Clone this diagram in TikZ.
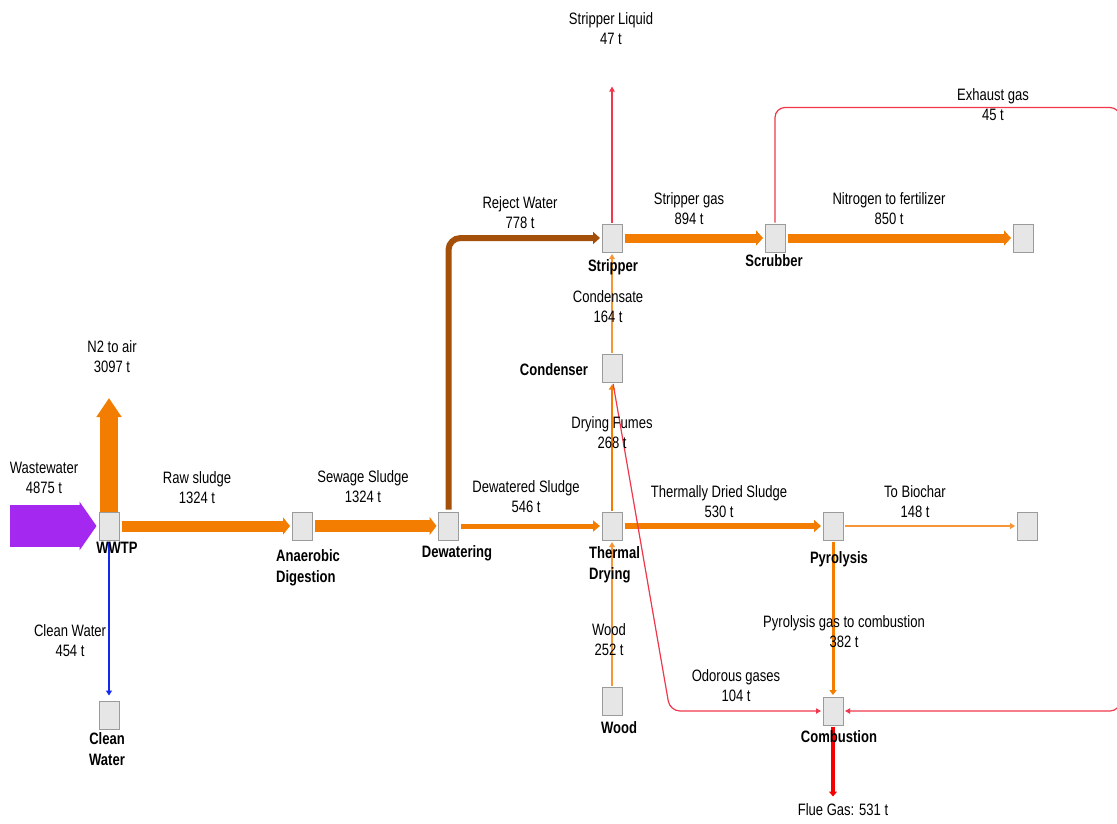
\documentclass[tikz,border=0pt]{standalone}
\usepackage{fontspec}
\setmainfont{Liberation Sans}[FakeStretch=0.79]
\usetikzlibrary{arrows.meta}
\definecolor{sorange}{RGB}{242,125,0}
\definecolor{lorange}{RGB}{246,150,55}
\definecolor{spurple}{RGB}{165,40,240}
\definecolor{sbrown}{RGB}{165,80,10}
\definecolor{sblue}{RGB}{20,40,240}
\definecolor{sred}{RGB}{240,55,75}
\definecolor{fred}{RGB}{245,0,0}
\definecolor{boxfill}{RGB}{230,230,230}
\definecolor{boxline}{RGB}{155,155,155}
\begin{document}
\begin{tikzpicture}[x=1pt,y=-1pt,
 proc/.style={draw=boxline, fill=boxfill, line width=1pt, minimum width=20pt, minimum height=28pt, inner sep=0pt},
 lbl/.style={font=\fontsize{16.5}{20}\selectfont, align=center, inner sep=0pt},
 blbl/.style={font=\fontsize{16.5}{21}\selectfont\bfseries, align=center, inner sep=0pt},
 sflow/.style={line width=#1, -{Triangle[length=7pt 0, width=6pt 1]}, shorten >=1.5pt, shorten <=2pt},
 tflow/.style={line width=#1, -{Triangle[length=5pt 0, width=4pt 1]}, shorten >=1.5pt, shorten <=1pt},
]
\clip (0,0) rectangle (1117,823);
\fill[white] (0,0) rectangle (1117,823);

% process boxes
\node[proc] (wwtp) at (109,526) {};
\node[proc] (ad) at (302,526) {};
\node[proc] (dew) at (448.5,526) {};
\node[proc] (td) at (612,526) {};
\node[proc] (pyr) at (833,526) {};
\node[proc] (bio) at (1027,526) {};
\node[proc] (cw) at (109,715) {};
\node[proc] (wood) at (612,701) {};
\node[proc] (comb) at (833,711) {};
\node[proc] (cond) at (612,368.5) {};
\node[proc] (strip) at (612,238) {};
\node[proc] (scrub) at (775,238) {};
\node[proc] (fert) at (1023,238) {};

% free ends
\coordinate (wwin) at (10,526);
\coordinate (n2out) at (109,398);
\coordinate (slout) at (612,85);
\coordinate (flout) at (833,798);
\coordinate (odbend) at (670,711);
\coordinate (ex1) at (775,107.5);
\coordinate (ex2) at (1120,107.5);
\coordinate (ex3) at (1120,711);

% flows
\draw[spurple, line width=42pt, -{Triangle[length=17pt 0, width=48pt 0]}, shorten >=2pt] (wwin) -- (wwtp.west);
\draw[sorange, line width=18pt, -{Triangle[length=19pt 0, width=24pt 0]}] (wwtp.north) -- (n2out);
\draw[sorange, sflow=11pt] (wwtp.east) -- (ad.west);
\draw[sorange, sflow=12pt] (ad.east) -- (dew.west);
\draw[sorange, sflow=5pt] (dew.east) -- (td.west);
\draw[sorange, sflow=6pt] (td.east) -- (pyr.west);
\draw[lorange, tflow=2pt] (pyr.east) -- (bio.west);
\draw[sorange, tflow=3pt] (pyr.south) -- (comb.north);
\draw[lorange, tflow=1.6pt] (wood.north) -- (td.south);
\draw[sorange, tflow=2pt] (td.north) -- (cond.south);
\draw[lorange, tflow=1.6pt] (cond.north) -- (strip.south);
\draw[sbrown, sflow=6pt, rounded corners=12pt] (dew.north) -- (dew.north |- strip.west) -- (strip.west);
\draw[sorange, sflow=9pt] (strip.east) -- (scrub.west);
\draw[sorange, sflow=9pt] (scrub.east) -- (fert.west);
\draw[sblue, tflow=2pt, shorten >=5pt] (wwtp.south) -- (cw.north);
\draw[sred, tflow=1.2pt] (strip.north) -- (slout);
\draw[fred, tflow=4pt] (comb.south) -- (flout);
\draw[sred, tflow=1.2pt, rounded corners=10pt] ([xshift=1pt]cond.south) -- (odbend) -- (comb.west);
\draw[sred, tflow=1.2pt, rounded corners=10pt] (scrub.north) -- (ex1) -- (ex2) -- (ex3) -- (comb.east);

% flow labels
\node[lbl] (lww) at (44,478) {Wastewater\\4875 t};
\node[lbl] (ln2) at (112,357) {N2 to air\\3097 t};
\node[lbl] (lraw) at (197,488) {Raw sludge\\1324 t};
\node[lbl] (lsew) at (363,487) {Sewage Sludge\\1324 t};
\node[lbl] (ldws) at (526,497) {Dewatered Sludge\\546 t};
\node[lbl] (lrej) at (520,213) {Reject Water\\778 t};
\node[lbl] (lsl) at (611,29) {Stripper Liquid\\47 t};
\node[lbl] (lsg) at (689,209) {Stripper gas\\894 t};
\node[lbl] (lnf) at (889,209) {Nitrogen to fertilizer\\850 t};
\node[lbl] (lex) at (993,105) {Exhaust gas\\45 t};
\node[lbl] (lcon) at (608,307) {Condensate\\164 t};
\node[lbl] (ldf) at (612,433) {Drying Fumes\\268 t};
\node[lbl] (ltds) at (719,502) {Thermally Dried Sludge\\530 t};
\node[lbl] (lbio) at (915,502) {To Biochar\\148 t};
\node[lbl] (lpg) at (844,632) {Pyrolysis gas to combustion\\382 t};
\node[lbl] (lod) at (736,686) {Odorous gases\\104 t};
\node[lbl] (lwood) at (609,640) {Wood\\252 t};
\node[lbl] (lcw) at (70,641) {Clean Water\\454 t};
\node[lbl] (lfg) at (843,810) {Flue Gas: 531 t};

% process labels
\node[blbl] (bwwtp) at (117,548) {WWTP};
\node[blbl] (bcw) at (107,749) {Clean\\Water};
\node[blbl, align=left, anchor=west] (bad) at (276,568) {Anaerobic\\Digestion};
\node[blbl] (bdew) at (457,553) {Dewatering};
\node[blbl, align=left, anchor=west] (btd) at (589,564.5) {Thermal\\Drying};
\node[blbl] (bpyr) at (839,559) {Pyrolysis};
\node[blbl] (bcomb) at (839,737) {Combustion};
\node[blbl] (bwood) at (619,728) {Wood};
\node[blbl] (bstrip) at (613,267) {Stripper};
\node[blbl] (bscrub) at (774,261) {Scrubber};
\node[blbl] (bcond) at (554,370) {Condenser};
\end{tikzpicture}
\end{document}
